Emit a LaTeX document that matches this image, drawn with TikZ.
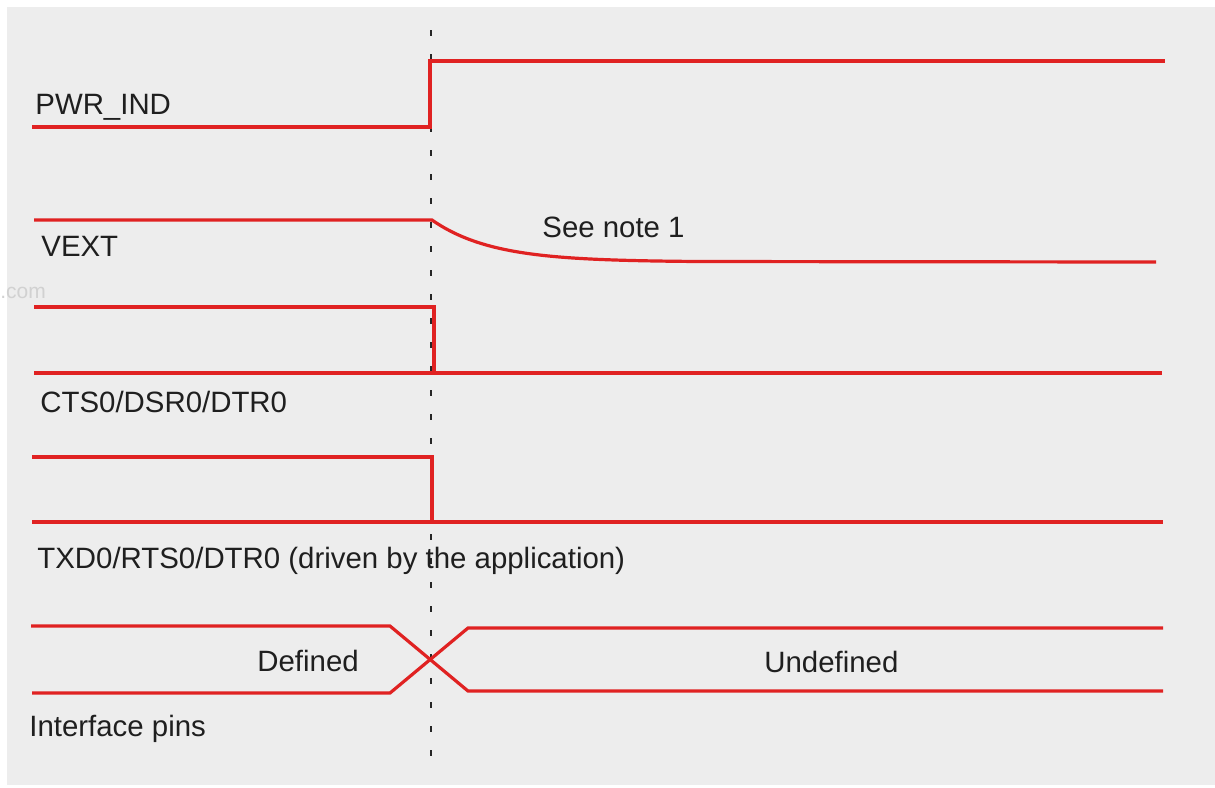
\documentclass[tikz,border=0pt]{standalone}
\usepackage{fontspec}
\setmainfont{Liberation Sans}
\usetikzlibrary{calc}
\usepackage{xcolor}
\definecolor{sigred}{HTML}{E02222}
\definecolor{bggray}{HTML}{EDEDED}

\begin{document}
\begin{tikzpicture}[x=.5pt, y=-.5pt,
  sig/.style={sigred, line width=1.6pt},
  lbl/.style={anchor=base west, inner sep=0, text=black!88, font=\fontsize{14.7}{17}\selectfont}]
\useasboundingbox (0,0) rectangle (1215,787);
\fill[bggray] (7,7) rectangle (1215,785);
\node[lbl, text=black!18, font=\fontsize{10.5}{12}\selectfont] (wm) at (0,298) {.com};
% time marker
\draw[black!85, line width=1.4pt, dash pattern=on 3.2pt off 8.8pt] (431,30)--(431,762);
% PWR_IND
\draw[sig] (32,127)--(430,127)--(430,61)--(1165,61);
\node[lbl] (pwr) at (35,114) {PWR\_IND};
% VEXT
\draw[sig] (34,220)--(432,220)
  -- plot[domain=432:700, samples=60, smooth] (\x,{262-42*exp(-(\x-432)/60)})
  --(1156,262);
\node[lbl] (vext) at (41,256) {VEXT};
\node[lbl] (note) at (542,237) {See note 1};
% CTS0/DSR0/DTR0
\draw[sig] (34,307)--(434,307)--(434,373);
\draw[sig] (34,373)--(1162,373);
\node[lbl] (cts) at (40,412) {CTS0/DSR0/DTR0};
% TXD0/RTS0/DTR0
\draw[sig] (32,457)--(432,457)--(432,522);
\draw[sig] (32,522)--(1163,522);
\node[lbl] (txd) at (37,568) {TXD0/RTS0/DTR0 (driven by the application)};
% interface pins
\draw[sig] (31,626)--(390,626)--(468,691)--(1163,691);
\draw[sig] (32,693)--(390,693)--(468,628)--(1163,628);
\node[lbl] (def) at (257,671) {Defined};
\node[lbl] (undef) at (764,672) {Undefined};
\node[lbl] (pins) at (29,736) {Interface pins};
\end{tikzpicture}
\end{document}
